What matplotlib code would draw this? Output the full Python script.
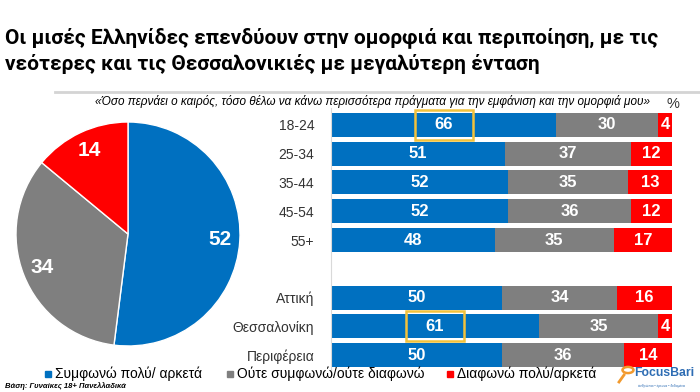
import matplotlib
matplotlib.use("Agg")
import matplotlib.pyplot as plt
from matplotlib.patches import Rectangle, Circle
from matplotlib.lines import Line2D

plt.rcParams["font.family"] = ["Liberation Sans", "DejaVu Sans"]

# data
groups = ["18-24", "25-34", "35-44", "45-54", "55+", "Αττική", "Θεσσαλονίκη", "Περιφέρεια"]
rows = [0, 1, 2, 3, 4, 6, 7, 8]
agree = [66, 51, 52, 52, 48, 50, 61, 50]
neutral = [30, 37, 35, 36, 35, 34, 35, 36]
disagree = [4, 12, 13, 12, 17, 16, 4, 14]
highlight = ["18-24", "Θεσσαλονίκη"]

pie_values = [52, 34, 14]
series_names = ["Συμφωνώ πολύ/ αρκετά", "Ούτε συμφωνώ/ούτε διαφωνώ", "Διαφωνώ πολύ/αρκετά"]
colors = ["#0070C0", "#7F7F7F", "#FF0000"]

title_lines = ["Οι μισές Ελληνίδες επενδύουν στην ομορφιά και περιποίηση, με τις",
               "νεότερες και τις Θεσσαλονικιές με μεγαλύτερη ένταση"]
subtitle = ("«Όσο περνάει ο καιρός, τόσο θέλω να κάνω περισσότερα πράγματα "
            "για την εμφάνιση και την ομορφιά μου»")
footnote = "Βάση: Γυναίκες 18+ Πανελλαδικά"

W, H = 700, 392
fig = plt.figure(figsize=(7, 3.92), dpi=100)


def px(x, y):
    return x / W, 1 - y / H


# title and subtitle
for line, y in zip(title_lines, [43, 70]):
    fig.text(*px(5, y), line, fontsize=15.05, fontweight="bold", va="baseline", ha="left",
             family=["Roboto", "Liberation Sans"])
fig.add_artist(Line2D([55 / W, 1], [1 - 92 / H] * 2, color="#d4d4d4", lw=2))
fig.text(*px(373, 102), subtitle, fontsize=8.45, style="italic", ha="center", va="center")
fig.text(*px(673, 104), "%", fontsize=10.5, ha="center", va="center", color="#333333")

# pie
ax_pie = fig.add_axes([16 / W, 1 - 346 / H, 224 / W, 224 / H])
ax_pie.pie(pie_values, colors=colors, startangle=90, counterclock=False,
           wedgeprops=dict(edgecolor="white", linewidth=1),
           autopct=lambda p: f"{p:.0f}", pctdistance=0.82,
           textprops=dict(color="white", fontsize=15, fontweight="bold"))
ax_pie.set_xlim(-1, 1)
ax_pie.set_ylim(-1, 1)
ax_pie.set_aspect("equal")

# stacked bars
ax = fig.add_axes([331 / W, 1 - 372 / H, 341 / W, 264 / H])
left = [0] * len(groups)
for vals, col in zip([agree, neutral, disagree], colors):
    ax.barh(rows, vals, left=left, height=0.835, color=col, edgecolor="none")
    for r, v, l in zip(rows, vals, left):
        ax.text(l + v / 2, r, str(v), color="white", fontsize=12, fontweight="bold",
                ha="center", va="center")
    left = [l + v for l, v in zip(left, vals)]

for g, r, a in zip(groups, rows, agree):
    if g in highlight:
        ax.add_patch(Rectangle((a / 2 - 8.5, r - 0.52), 17, 1.04, fill=False,
                               edgecolor="#F2C23C", lw=1.8, zorder=5))

ax.set_xlim(0, 100)
ax.set_ylim(8.59, -0.59)
ax.set_yticks(rows)
ax.set_yticklabels(groups, fontsize=10, color="#333333")
ax.tick_params(axis="y", length=0, pad=12)
ax.set_xticks([])
for s in ["top", "right", "bottom"]:
    ax.spines[s].set_visible(False)
ax.spines["left"].set_color("#d9d9d9")

# legend
legend_x = [45, 227, 447]
for x, name, col in zip(legend_x, series_names, colors):
    fig.add_artist(Rectangle(px(x, 377), 6 / W, 6 / H, color=col))
    fig.text(*px(x + 10, 374), name, fontsize=10, va="center", ha="left")

fig.text(*px(5, 386), footnote, fontsize=5.5, style="italic", fontweight="bold",
         va="center", ha="left")

# logo
fig.add_artist(Circle(px(628, 370), 5.5 / W, transform=fig.transFigure, fill=False,
                      edgecolor="#F29A2E", lw=1.8))
fig.add_artist(Line2D([624 / W, 619 / W], [1 - 375 / H, 1 - 382 / H], color="#F29A2E", lw=2))
fig.text(*px(634, 373), "FocusBari", fontsize=8.8, fontweight="bold", color="#2E6DB4",
         va="center", ha="left")
fig.text(*px(638, 386), "άνθρωποι • έρευνα • δεδομένα", fontsize=2.5, color="#2E6DB4",
         va="center", ha="left")

fig.savefig("out.png", dpi=100)
